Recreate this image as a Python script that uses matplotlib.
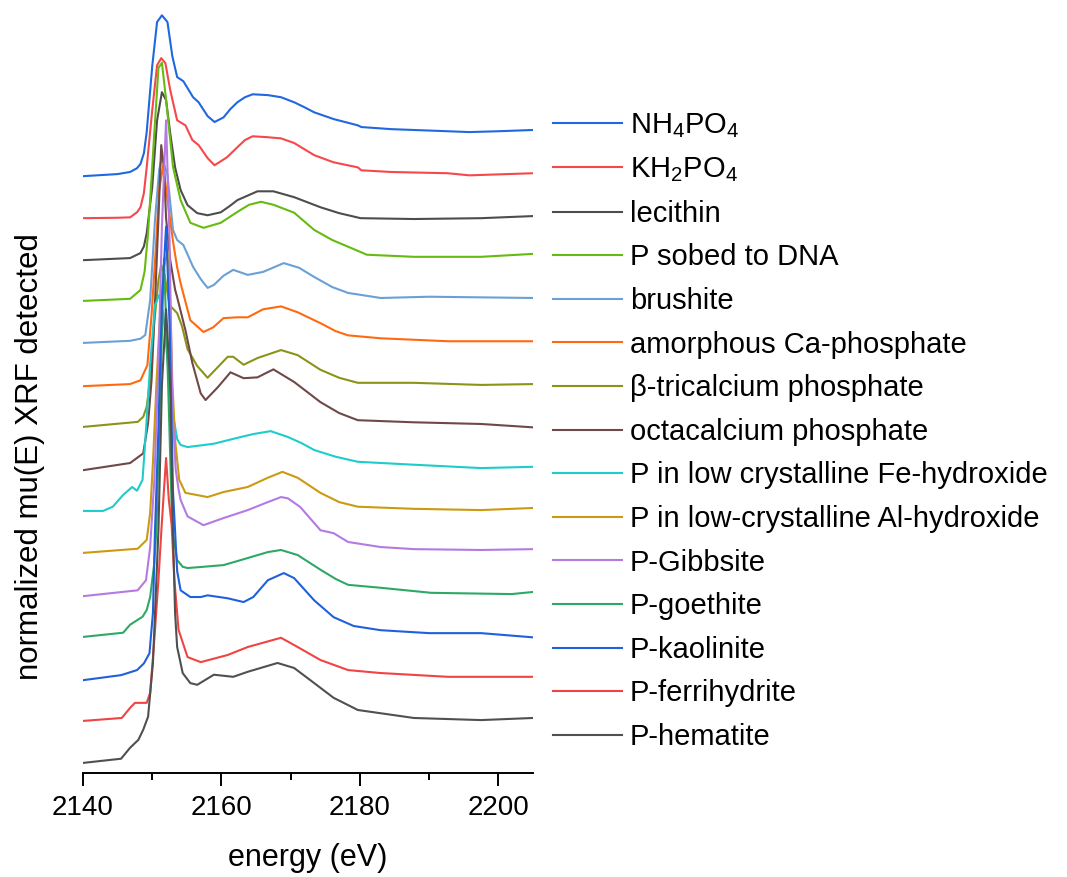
import matplotlib
matplotlib.use('Agg')
from matplotlib import pyplot as plt
from matplotlib.ticker import MultipleLocator

plt.rcParams['font.family'] = ['Liberation Sans', 'DejaVu Sans']
plt.rcParams['mathtext.fontset'] = 'custom'
plt.rcParams['mathtext.rm'] = 'Liberation Sans'
plt.rcParams['mathtext.default'] = 'regular'

# spectra: energy (eV) and normalized mu(E), one edge step = 1
e_nh4 = [2140, 2145.0, 2146.8, 2147.8, 2148.3, 2148.8, 2149.2, 2150.0, 2150.7, 2151.4, 2152.2, 2152.9, 2153.6, 2154.5,
         2155.2, 2155.9, 2156.7, 2158.0, 2159.0, 2160.3, 2161.3, 2162.3, 2163.4, 2164.5, 2166.7, 2168.6, 2170.5, 2172.0,
         2173.4, 2176.2, 2179.7, 2180.2, 2184.5, 2192.7, 2195.8, 2200.0, 2205.0]
mu_nh4 = [0, 0.05, 0.10, 0.19, 0.29, 0.55, 1.05, 2.62, 3.67, 3.83, 3.67, 2.86, 2.36, 2.26,
          2.07, 1.88, 1.76, 1.43, 1.29, 1.40, 1.60, 1.76, 1.88, 1.95, 1.93, 1.88, 1.76, 1.64,
          1.52, 1.36, 1.21, 1.17, 1.12, 1.07, 1.05, 1.07, 1.10]

e_kh2 = [2140, 2145.0, 2146.8, 2147.8, 2148.3, 2148.8, 2149.2, 2150.0, 2150.7, 2151.3, 2151.9, 2152.6, 2153.6, 2154.8,
         2155.8, 2156.7, 2158.0, 2159.0, 2160.8, 2162.3, 2163.4, 2164.5, 2166.5, 2168.6, 2170.5, 2172.0, 2173.4, 2176.2,
         2179.7, 2180.2, 2184.5, 2192.7, 2195.8, 2205.0]
mu_kh2 = [0, 0.01, 0.02, 0.14, 0.26, 0.60, 1.21, 2.57, 3.64, 3.81, 3.69, 3.05, 2.33, 2.21,
          1.86, 1.74, 1.43, 1.26, 1.45, 1.69, 1.86, 1.95, 1.93, 1.90, 1.79, 1.64, 1.50, 1.33,
          1.21, 1.14, 1.10, 1.07, 1.02, 1.07]

e_lec = [2140, 2146.8, 2148.3, 2148.8, 2149.2, 2150.0, 2150.7, 2151.4, 2152.0, 2152.6, 2153.3, 2154.1, 2155.1, 2156.5,
         2158.0, 2159.9, 2161.2, 2162.3, 2165.2, 2167.5, 2170.5, 2172.4, 2174.3, 2177.0, 2180.1, 2187.8, 2197.5, 2205.0]
mu_lec = [0, 0.05, 0.17, 0.33, 0.64, 1.74, 3.33, 4.00, 3.81, 3.02, 2.21, 1.67, 1.31, 1.12,
          1.07, 1.14, 1.29, 1.43, 1.64, 1.64, 1.50, 1.38, 1.26, 1.12, 1.00, 0.98, 1.00, 1.05]

e_dna = [2140, 2146.8, 2148.3, 2148.9, 2149.4, 2150.3, 2150.9, 2151.4, 2152.0, 2153.0, 2154.1, 2155.5, 2157.4, 2159.9,
         2162.3, 2164.0, 2165.7, 2167.5, 2170.5, 2173.4, 2176.0, 2178.3, 2181.0, 2187.8, 2197.5, 2205.0]
mu_dna = [0, 0.05, 0.26, 0.70, 1.62, 4.00, 5.55, 5.67, 4.79, 3.19, 2.40, 1.86, 1.74, 1.86,
          2.12, 2.29, 2.36, 2.29, 2.10, 1.69, 1.45, 1.29, 1.10, 1.05, 1.05, 1.12]

e_bru = [2140, 2146.8, 2148.3, 2149.0, 2149.7, 2150.4, 2151.0, 2151.4, 2152.2, 2153.0, 2153.6, 2154.5, 2155.9, 2157.0,
         2158.0, 2158.9, 2160.3, 2161.7, 2163.8, 2166.0, 2169.0, 2171.2, 2173.4, 2176.0, 2178.3, 2183.0, 2190.0, 2205.0]
mu_bru = [0, 0.05, 0.10, 0.19, 1.02, 2.93, 4.12, 4.43, 4.00, 2.69, 2.45, 2.33, 1.81, 1.52,
          1.31, 1.38, 1.60, 1.74, 1.62, 1.69, 1.90, 1.79, 1.57, 1.33, 1.19, 1.07, 1.10, 1.07]

e_acp = [2140, 2146.8, 2148.3, 2149.3, 2149.9, 2150.5, 2151.0, 2151.6, 2152.2, 2153.0, 2153.6, 2154.1, 2155.5, 2157.4,
         2158.8, 2160.3, 2162.3, 2163.8, 2166.0, 2168.6, 2171.0, 2174.3, 2176.5, 2178.3, 2183.0, 2192.7, 2205.0]
mu_acp = [0, 0.05, 0.14, 0.50, 1.69, 3.24, 4.67, 5.26, 4.43, 3.45, 2.83, 2.45, 1.57, 1.29,
          1.40, 1.62, 1.64, 1.64, 1.83, 1.90, 1.76, 1.50, 1.31, 1.21, 1.14, 1.07, 1.07]

e_tcp = [2140, 2147.9, 2148.7, 2149.2, 2149.7, 2150.3, 2150.9, 2151.3, 2151.8, 2152.5, 2153.6, 2154.3, 2155.1, 2156.5,
         2158.0, 2159.1, 2160.9, 2161.7, 2163.2, 2165.2, 2168.6, 2171.0, 2174.3, 2177.0, 2179.7, 2187.8, 2197.5, 2205.0]
mu_tcp = [0, 0.12, 0.24, 0.48, 1.12, 2.50, 3.50, 3.86, 3.60, 2.90, 2.71, 2.40, 1.85, 1.45,
          1.17, 1.36, 1.67, 1.67, 1.48, 1.64, 1.83, 1.71, 1.36, 1.17, 1.05, 1.05, 1.00, 1.02]

e_ocp = [2140, 2146.8, 2148.7, 2149.4, 2149.9, 2150.4, 2150.9, 2151.3, 2151.7, 2152.0, 2152.6, 2153.3, 2153.6, 2154.8,
         2155.8, 2157.0, 2157.7, 2159.5, 2161.3, 2163.2, 2165.2, 2167.5, 2170.5, 2174.3, 2177.0, 2179.7, 2187.8, 2197.5,
         2205.0]
mu_ocp = [0, 0.17, 0.40, 1.12, 2.14, 4.00, 6.00, 7.74, 7.20, 6.00, 5.00, 4.30, 4.12, 3.33,
          2.55, 1.83, 1.67, 1.98, 2.33, 2.19, 2.21, 2.40, 2.10, 1.62, 1.36, 1.19, 1.14, 1.10, 1.02]

e_feh = [2140, 2142.9, 2144.3, 2145.8, 2147.1, 2147.8, 2148.6, 2149.1, 2149.7, 2150.4, 2151.0, 2151.6, 2152.3, 2152.9,
         2153.6, 2154.1, 2155.1, 2158.9, 2162.3, 2164.6, 2167.1, 2169.6, 2171.5, 2173.4, 2176.5, 2179.7, 2187.8, 2197.5,
         2205.0]
mu_feh = [0, 0, 0.10, 0.38, 0.57, 0.48, 0.74, 1.93, 3.50, 4.90, 5.14, 4.70, 3.40, 2.40,
          1.71, 1.57, 1.52, 1.60, 1.74, 1.83, 1.90, 1.76, 1.62, 1.45, 1.29, 1.17, 1.10, 1.02, 1.05]

e_alh = [2140, 2147.9, 2149.2, 2149.7, 2150.1, 2150.6, 2151.1, 2151.7, 2152.2, 2152.6, 2152.9, 2153.3, 2153.9, 2154.8,
         2158.0, 2160.3, 2163.8, 2166.7, 2168.8, 2171.0, 2174.3, 2177.0, 2179.7, 2187.8, 2197.5, 2205.0]
mu_alh = [0, 0.10, 0.31, 0.95, 2.14, 4.00, 5.60, 6.80, 7.17, 6.00, 4.10, 2.69, 1.74, 1.43,
          1.33, 1.45, 1.57, 1.79, 1.93, 1.79, 1.43, 1.21, 1.10, 1.05, 1.02, 1.07]

e_gib = [2140, 2147.9, 2149.1, 2149.7, 2150.3, 2150.9, 2151.4, 2152.0, 2152.5, 2152.9, 2153.4, 2153.8, 2154.1, 2155.1,
         2157.4, 2160.3, 2163.8, 2166.7, 2168.6, 2169.6, 2171.4, 2174.3, 2176.2, 2178.3, 2183.0, 2187.8, 2197.5, 2205.0]
mu_gib = [0, 0.14, 0.38, 1.17, 2.76, 5.50, 8.80, 11.33, 8.50, 4.50, 3.00, 2.55, 2.29, 1.90,
          1.69, 1.86, 2.05, 2.24, 2.36, 2.33, 2.12, 1.57, 1.50, 1.29, 1.17, 1.12, 1.10, 1.12]

e_goe = [2140, 2145.8, 2146.8, 2148.6, 2149.2, 2149.7, 2150.3, 2150.6, 2151.1, 2151.7, 2152.3, 2152.9, 2153.6, 2154.4,
         2155.1, 2157.4, 2160.3, 2162.8, 2166.7, 2168.6, 2171.0, 2174.3, 2176.5, 2178.3, 2183.0, 2190.3, 2201.9, 2205.0]
mu_goe = [0, 0.10, 0.29, 0.48, 0.64, 0.95, 1.76, 2.55, 5.50, 9.00, 6.00, 2.55, 1.83, 1.67,
          1.64, 1.67, 1.71, 1.83, 2.02, 2.07, 1.95, 1.60, 1.38, 1.24, 1.17, 1.05, 1.02, 1.07]

e_kao = [2140, 2145.5, 2147.8, 2148.8, 2149.6, 2150.1, 2150.4, 2150.9, 2151.4, 2152.0, 2152.5, 2153.0, 2153.6, 2154.1,
         2155.5, 2157.0, 2158.0, 2160.9, 2163.2, 2164.6, 2166.7, 2169.0, 2170.5, 2173.4, 2176.2, 2179.1, 2183.0, 2190.0,
         2197.5, 2205.0]
mu_kao = [0, 0.12, 0.24, 0.40, 0.64, 1.60, 3.57, 6.00, 9.00, 10.80, 8.50, 4.50, 2.60, 2.14,
          1.98, 1.98, 2.02, 1.95, 1.86, 1.98, 2.38, 2.55, 2.43, 1.90, 1.50, 1.29, 1.19, 1.12,
          1.12, 1.02]

e_fhy = [2140, 2145.6, 2146.8, 2147.5, 2149.2, 2149.7, 2150.3, 2150.9, 2151.3, 2151.6, 2152.0, 2152.4, 2152.8, 2153.2,
         2153.8, 2155.1, 2157.0, 2160.9, 2163.8, 2168.6, 2171.0, 2174.3, 2178.3, 2183.0, 2192.7, 2205.0]
mu_fhy = [0, 0.07, 0.31, 0.43, 0.43, 0.67, 1.93, 3.36, 4.48, 5.26, 6.26, 5.26, 4.67, 3.36,
          2.17, 1.52, 1.40, 1.57, 1.76, 1.98, 1.76, 1.45, 1.21, 1.14, 1.05, 1.05]

e_hem = [2140, 2145.5, 2146.8, 2148.0, 2148.7, 2149.4, 2150.1, 2150.9, 2151.4, 2152.0, 2152.6, 2153.0, 2153.3, 2153.6,
         2154.4, 2155.5, 2156.5, 2158.9, 2161.7, 2163.8, 2168.1, 2170.5, 2173.4, 2176.2, 2179.7, 2187.8, 2197.5, 2205.0]
mu_hem = [0, 0.10, 0.36, 0.55, 0.79, 1.10, 2.38, 5.55, 9.00, 10.80, 9.00, 5.48, 3.57, 2.76,
          2.14, 1.90, 1.86, 2.10, 2.05, 2.17, 2.38, 2.26, 1.90, 1.55, 1.26, 1.07, 1.02, 1.07]

labels = ['NH$_4$PO$_4$', 'KH$_2$PO$_4$', 'lecithin', 'P sobed to DNA', 'brushite', 'amorphous Ca-phosphate',
          'β-tricalcium phosphate', 'octacalcium phosphate', 'P in low crystalline Fe-hydroxide',
          'P in low-crystalline Al-hydroxide', 'P-Gibbsite', 'P-goethite', 'P-kaolinite', 'P-ferrihydrite',
          'P-hematite']
offsets = [14.21, 13.21, 12.21, 11.24, 10.24, 9.21, 8.24, 7.21, 6.24, 5.24, 4.21, 3.24, 2.21, 1.24, 0.24]
colors = ['#1f68e0', '#f5484c', '#4d4d4d', '#66bb11', '#6aa0d6', '#ff6a10', '#8c9418', '#704848', '#1ecccc',
          '#cc9a10', '#b57ae2', '#2ea866', '#1f60dd', '#f04444', '#505050']

energies = [e_nh4, e_kh2, e_lec, e_dna, e_bru, e_acp, e_tcp, e_ocp, e_feh, e_alh, e_gib, e_goe, e_kao, e_fhy, e_hem]
spectra = [mu_nh4, mu_kh2, mu_lec, mu_dna, mu_bru, mu_acp, mu_tcp, mu_ocp, mu_feh, mu_alh, mu_gib, mu_goe, mu_kao,
           mu_fhy, mu_hem]

fig = plt.figure(figsize=(10.67, 8.77), dpi=100)
ax = fig.add_axes([83 / 1067, 104 / 877, 450 / 1067, 768 / 877])

for e, mu, off, c, lab in zip(energies, spectra, offsets, colors, labels):
    ax.plot(e, [m + off for m in mu], color=c, lw=1.5, label=lab, solid_joinstyle='round')

ax.set_xlim(2140, 2205)
ax.set_ylim(0, 768 / 42)
for s in ['left', 'right', 'top']:
    ax.spines[s].set_visible(False)
ax.spines['bottom'].set_linewidth(1.4)
ax.set_yticks([])
ax.xaxis.set_major_locator(MultipleLocator(20))
ax.xaxis.set_minor_locator(MultipleLocator(10))
ax.tick_params(axis='x', which='major', length=9, width=1.4, labelsize=20, pad=7)
ax.tick_params(axis='x', which='minor', length=5, width=1.4)
ax.set_xlabel('energy (eV)', fontsize=22, labelpad=16)
fig.text(30 / 1067, 1 - 457 / 877, 'normalized mu(E) XRF detected', rotation=90, fontsize=22.5,
         ha='center', va='center')

ax.legend(loc='upper left', bbox_to_anchor=(553 / 1067, 1 - 111 / 877), bbox_transform=fig.transFigure,
          frameon=False, fontsize=21, handlelength=2.36, handletextpad=0.27, labelspacing=0.535,
          borderpad=0, borderaxespad=0)

fig.savefig('out.png', dpi=100)
